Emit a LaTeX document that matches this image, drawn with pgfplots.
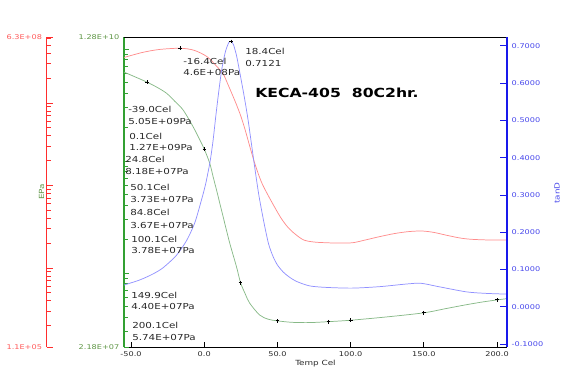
\documentclass[border=0pt]{standalone}
\usepackage{pgfplots}
\pgfplotsset{compat=1.18}
\usepackage{fontspec}
\setmainfont{DejaVu Sans}[FakeStretch=1.25]
\definecolor{redax}{RGB}{255,45,45}
\definecolor{redlab}{RGB}{255,90,90}
\definecolor{greenax}{RGB}{50,160,50}
\definecolor{greenlab}{RGB}{95,150,70}
\definecolor{blueax}{RGB}{25,25,235}
\definecolor{bluelab}{RGB}{70,70,235}
\definecolor{redc}{RGB}{255,140,140}
\definecolor{greenc}{RGB}{135,185,135}
\definecolor{bluec}{RGB}{145,145,255}
\definecolor{txt}{RGB}{40,40,40}
\newcommand{\tickfont}{\fontsize{4.9}{5.5}\selectfont}
\newcommand{\labfont}{\fontsize{5.3}{6}\selectfont}
\newcommand{\annfont}{\fontsize{6.2}{7}\selectfont}
\newcommand{\titfont}{\fontsize{9.4}{10}\selectfont\bfseries}
\pgfplotsset{
  base/.style={scale only axis, width=287.25pt, height=232.5pt,
    at={(93pt,-260.25pt)}, anchor=south west, xmin=-54.8, xmax=206.8},
  mk/.style={only marks, mark=+, black, mark size=1.4pt, line width=0.7pt},
}
\begin{document}
\begin{tikzpicture}
\path[use as bounding box] (0,0) rectangle (437.25pt,-288pt);

% ---- E' (green) axis with frame and x axis
\begin{axis}[base,
  ymode=log, ymin=2.18e7, ymax=1.28e10,
  axis x line*=bottom, axis y line*=left,
  x axis line style={draw=black, line width=0.7pt, -},
  y axis line style={draw=greenax, line width=1pt, -},
  tick align=inside,
  xtick={-50,0,50,100,150,200},
  xticklabels={-50.0,0.0,50.0,100.0,150.0,200.0},
  xtick style={black, line width=0.6pt},
  ytick style={greenax, line width=0.6pt},
  major tick length=4pt, minor tick length=2.8pt,
  yticklabels={},
  extra y ticks={2.18e7,1.28e10},
  extra y tick labels={2.18E+07,1.28E+10},
  extra y tick style={yticklabel style={text=greenlab, font=\tickfont}},
  xticklabel style={font=\tickfont, text=txt},
  xlabel={Temp Cel},
  xlabel style={at={(axis description cs:0.5,0)}, anchor=north, yshift=-9.6pt, inner sep=0pt, font=\labfont, text=txt},
]
\addplot[greenc, line width=0.55pt, smooth, tension=0.5] coordinates {
(-55,6.23e9) (-47,5.62e9) (-39,5.05e9) (-32,4.53e9) (-25.7,4.02e9) (-20,3.40e9)
(-14.4,2.85e9) (-7.6,2.02e9) (-3,1.54e9) (0.1,1.27e9) (3.8,9.5e8) (6.1,7.2e8)
(8.4,5.5e8) (12.9,3.18e8) (17.4,1.85e8) (22,1.14e8) (24.8,8.18e7) (28,6.5e7)
(31,5.38e7) (37.9,4.2e7) (44,3.85e7) (50.1,3.73e7) (60,3.62e7) (72,3.6e7)
(84.8,3.67e7) (100.1,3.78e7) (125,4.05e7) (149.9,4.40e7) (165,4.8e7)
(178,5.17e7) (190,5.5e7) (200.1,5.74e7) (207,5.9e7)};
\addplot[mk] coordinates {
(-39.0,5.05e9) (0.1,1.27e9) (24.8,8.18e7) (50.1,3.73e7) (84.8,3.67e7)
(100.1,3.78e7) (149.9,4.40e7) (200.1,5.74e7)};
\draw[black, line width=0.7pt] (rel axis cs:0,1) -- (rel axis cs:1,1) -- (rel axis cs:1,0);
\end{axis}

% ---- E'' (red) curve
\begin{axis}[base, ymode=log, ymin=1.1e5, ymax=6.3e8, hide axis]
\addplot[redc, line width=0.55pt, smooth, tension=0.5] coordinates {
(-55,3.55e8) (-42,4.10e8) (-30.5,4.45e8) (-16.4,4.6e8) (-7,4.35e8) (2,3.63e8)
(9,2.72e8) (13,2.24e8) (16.3,1.66e8) (19.7,1.20e8) (22,9.55e7) (25,6.92e7)
(28,4.68e7) (31,3.02e7) (34,1.98e7) (37,1.37e7) (40,1.01e7) (45,6.84e6)
(52,4.14e6) (57,3.13e6) (62,2.58e6) (68,2.18e6) (75,2.06e6) (83,2.02e6)
(92,2.0e6) (101.4,2.02e6) (110,2.18e6) (119.6,2.39e6) (130,2.61e6) (140,2.76e6)
(149,2.80e6) (157,2.69e6) (165,2.50e6) (175,2.30e6) (183,2.22e6) (195,2.18e6)
(207,2.18e6)};
\addplot[mk] coordinates {(-16.4,4.6e8)};
\end{axis}

% ---- E'' (red) spine, far left
\begin{axis}[scale only axis, width=20pt, height=232.5pt,
  at={(35pt,-260.25pt)}, anchor=south west,
  xmin=0, xmax=1, ymode=log, ymin=1.1e5, ymax=6.3e8,
  axis y line*=left, hide x axis,
  y axis line style={draw=redax, line width=1pt, -},
  tick align=inside,
  ytick style={redax, line width=0.6pt},
  major tick length=5pt, minor tick length=3.5pt,
  yticklabels={},
  extra y ticks={1.1e5,6.3e8},
  extra y tick labels={1.1E+05,6.3E+08},
  extra y tick style={yticklabel style={text=redlab, font=\tickfont}},
]
\end{axis}

% ---- tan delta (blue)
\begin{axis}[base, ymin=-0.108, ymax=0.724,
  axis y line*=right, hide x axis,
  y axis line style={draw=blueax, line width=1.3pt, -},
  tick align=inside,
  ytick={-0.1,0,0.1,0.2,0.3,0.4,0.5,0.6,0.7},
  yticklabels={-0.1000,0.0000,0.1000,0.2000,0.3000,0.4000,0.5000,0.6000,0.7000},
  ytick style={blueax, line width=0.7pt},
  major tick length=5pt,
  yticklabel style={text=bluelab, font=\tickfont},
]
\addplot[bluec, line width=0.55pt, smooth, tension=0.45] coordinates {
(-55,0.058) (-44,0.072) (-35,0.088) (-28,0.105) (-19,0.138) (-12,0.178)
(-6.4,0.226) (-2,0.285) (1,0.33) (4,0.39) (6,0.445) (8,0.515) (10,0.58)
(12,0.638) (14.5,0.685) (16.8,0.709) (18.4,0.7121) (20,0.703) (22,0.675)
(24,0.635) (27.5,0.56) (30,0.50) (32.5,0.43) (35,0.36) (37.5,0.295) (41,0.222)
(44,0.168) (47,0.135) (50,0.112) (54,0.093) (58,0.080) (63,0.068) (72,0.056)
(83,0.052) (101,0.050) (120,0.054) (138,0.061) (148,0.063) (160,0.054)
(179,0.040) (192,0.036) (206,0.034)};
\addplot[mk] coordinates {(18.4,0.7121)};
\end{axis}

% ---- texts (pixel grid)
\begin{scope}[x=0.75pt, y=-0.75pt]
\node[rotate=90, text=greenlab, font=\labfont] at (41.5,192) {EPa};
\node[rotate=90, text=bluelab, font=\labfont] at (557,193) {tanD};
\node[anchor=west, inner sep=0pt, font=\titfont] at (255,93) {KECA-405\ \ 80C2hr.};
\begin{scope}[every node/.style={anchor=west, inner sep=0pt, font=\annfont, text=txt}]
\node at (183,61) {-16.4Cel};
\node at (183,72.5) {4.6E+08Pa};
\node at (245,51) {18.4Cel};
\node at (245,63.5) {0.7121};
\node at (128,109.3) {-39.0Cel};
\node at (128,121) {5.05E+09Pa};
\node at (129,136) {0.1Cel};
\node at (129,147.7) {1.27E+09Pa};
\node at (125,159.3) {24.8Cel};
\node at (125,171.7) {8.18E+07Pa};
\node at (130,187.3) {50.1Cel};
\node at (130,199.3) {3.73E+07Pa};
\node at (130,212.7) {84.8Cel};
\node at (130,225) {3.67E+07Pa};
\node at (131,239.3) {100.1Cel};
\node at (131,250.7) {3.78E+07Pa};
\node at (131,295.3) {149.9Cel};
\node at (131,306.7) {4.40E+07Pa};
\node at (132,325.3) {200.1Cel};
\node at (132,337.7) {5.74E+07Pa};
\end{scope}
\end{scope}
\end{tikzpicture}
\end{document}
